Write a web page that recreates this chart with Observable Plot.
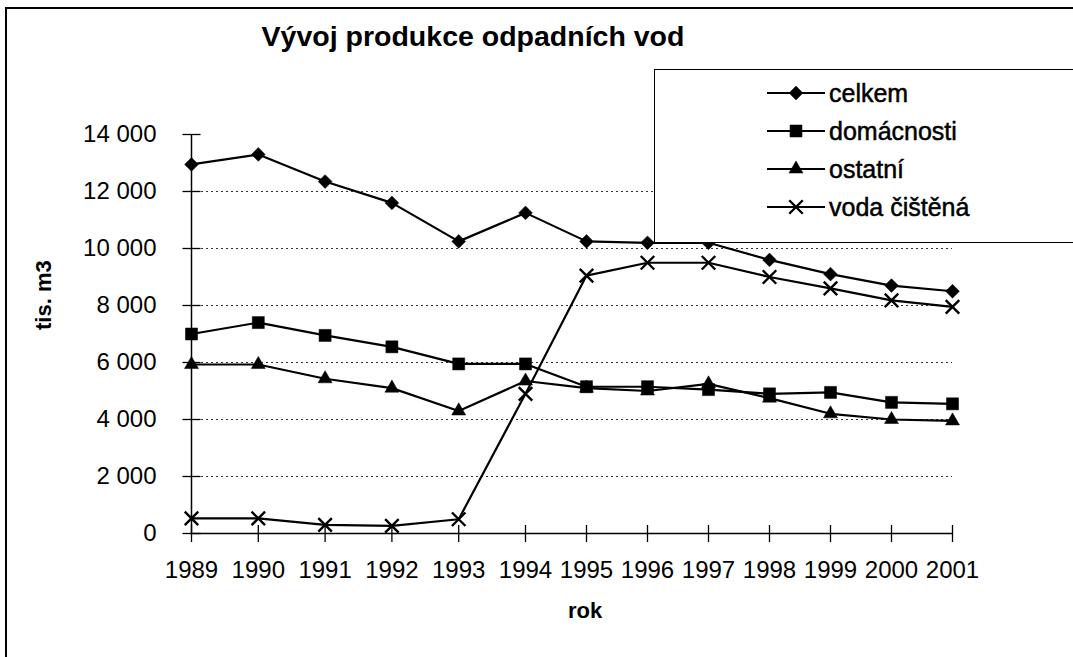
<!DOCTYPE html>
<html>
<head>
<meta charset="utf-8">
<script src="https://cdn.jsdelivr.net/npm/d3@7"></script>
<script src="https://cdn.jsdelivr.net/npm/@observablehq/plot@0.6"></script>
<style>
  html, body { margin: 0; padding: 0; background: #fff; }
  body { width: 1073px; height: 657px; overflow: hidden; font-family: "Liberation Sans", Arial, sans-serif; color: #000; }
  #wrap { position: relative; width: 1073px; height: 657px; }
  #frame { position: absolute; left: 5px; top: 7px; width: 1080px; height: 660px; border-left: 2px solid #000; border-top: 2px solid #000; box-sizing: border-box; pointer-events: none; }
  #title { height: 62px; box-sizing: border-box; padding-top: 21px; text-align: center; font-weight: bold; font-size: 28.5px; line-height: 30px; width: 946px; }
  #chart svg { display: block; }
  #legend { position: absolute; left: 654px; top: 69px; width: 440px; height: 174px; border: 1.5px solid #000; background: #fff; box-sizing: border-box; }
</style>
</head>
<body>
<div id="wrap">
  <div id="frame"></div>
  <div id="title">Vývoj produkce odpadních vod</div>
  <div id="chart"></div>
  <div id="legend"></div>
</div>
<script>
// ---- data ----
const years = [1989, 1990, 1991, 1992, 1993, 1994, 1995, 1996, 1997, 1998, 1999, 2000, 2001];
const celkem = [12950, 13300, 12350, 11600, 10250, 11250, 10250, 10200, 10200, 9600, 9100, 8700, 8500];
const domacnosti = [7000, 7400, 6950, 6550, 5950, 5950, 5150, 5150, 5050, 4900, 4950, 4600, 4550];
const ostatni = [5930, 5930, 5430, 5100, 4300, 5350, 5100, 5000, 5250, 4750, 4200, 4000, 3950];
const vodaCistena = [530, 530, 300, 270, 500, 4900, 9050, 9500, 9500, 9000, 8600, 8180, 7950];
const seriesNames = ["celkem", "domácnosti", "ostatní", "voda čištěná"];
const yTicks = [0, 2000, 4000, 6000, 8000, 10000, 12000, 14000];
const gridTicks = [2000, 4000, 6000, 8000, 10000, 12000];

const seriesValues = [celkem, domacnosti, ostatni, vodaCistena];
const symbols = ["diamond2", "square", "triangle", "times"];
const symbolR = [6.2, 6.8, 5.2, 6.2];
const d3Symbols = [d3.symbolDiamond2, d3.symbolSquare, d3.symbolTriangle, d3.symbolTimes];

const fmt = v => d3.format(",")(v).replace(/,/g, " ");

// crossing tick symbols for axes
const hTick = { draw(ctx) { ctx.moveTo(-9, 0); ctx.lineTo(9, 0); } };
const vTick = { draw(ctx) { ctx.moveTo(0, -8.5); ctx.lineTo(0, 8.5); } };

const seriesMarks = [];
seriesValues.forEach((vals, i) => {
  const rows = years.map((y, j) => ({ year: y, value: vals[j] }));
  seriesMarks.push(Plot.line(rows, { x: "year", y: "value", stroke: "#000", strokeWidth: 2.2 }));
  const filled = symbols[i] !== "times";
  seriesMarks.push(Plot.dot(rows, {
    x: "year", y: "value", symbol: symbols[i], r: symbolR[i],
    fill: filled ? "#000" : "none", stroke: "#000", strokeWidth: filled ? 0.5 : 2.4
  }));
});

const chart = Plot.plot({
  width: 1073,
  height: 595,
  marginLeft: 191,
  marginRight: 121,
  marginTop: 72,
  marginBottom: 124,
  style: { fontFamily: '"Liberation Sans", Arial, sans-serif', fontSize: "24px", color: "#000", background: "transparent", overflow: "visible" },
  x: { type: "linear", domain: [1989, 1994, 2001], range: [191, 525, 952] },
  y: { type: "linear", domain: [0, 14000] },
  marks: [
    Plot.ruleY(gridTicks, { stroke: "#333", strokeWidth: 1, strokeDasharray: "2 3" }),
    Plot.ruleX([years[0]], { y1: yTicks[0], y2: yTicks[yTicks.length - 1], stroke: "#000", strokeWidth: 1.5 }),
    Plot.ruleY([0], { stroke: "#000", strokeWidth: 1.5 }),
    Plot.dot(yTicks, { x: () => years[0], y: d => d, symbol: hTick, fill: "none", stroke: "#000", strokeWidth: 1.3 }),
    Plot.dot(years, { x: d => d, y: () => 0, symbol: vTick, fill: "none", stroke: "#000", strokeWidth: 1.3 }),
    Plot.axisY(yTicks, { tickSize: 0, tickPadding: 35, tickFormat: fmt, label: null, fontSize: 24, stroke: "#000", strokeWidth: 0.5 }),
    Plot.axisX(years, { tickSize: 0, tickPadding: 27, tickFormat: d => String(d), label: null, fontSize: 24, stroke: "#000", strokeWidth: 0.5 }),
    ...seriesMarks,
    Plot.text(["tis. m3"], { frameAnchor: "left", dx: -148, dy: -4, rotate: -90, fontWeight: "bold", fontSize: 22, text: d => d }),
    Plot.text(["rok"], { frameAnchor: "bottom", dx: 13, dy: 84, fontWeight: "bold", fontSize: 22, text: d => d })
  ]
});
document.getElementById("chart").appendChild(chart);

// ---- legend ----
const lg = d3.select("#legend").append("svg").attr("width", 440).attr("height", 172)
  .style("display", "block").style("font-family", '"Liberation Sans", Arial, sans-serif');
const rowY = [23, 61, 99, 137];
seriesNames.forEach((name, i) => {
  const g = lg.append("g").attr("transform", `translate(0,${rowY[i]})`);
  g.append("line").attr("x1", 112).attr("x2", 170).attr("y1", 0).attr("y2", 0).attr("stroke", "#000").attr("stroke-width", 2);
  const filled = symbols[i] !== "times";
  g.append("path").attr("transform", "translate(141,0)")
    .attr("d", d3.symbol().type(d3Symbols[i]).size(Math.PI * symbolR[i] * symbolR[i])())
    .attr("fill", filled ? "#000" : "none").attr("stroke", "#000").attr("stroke-width", filled ? 0.5 : 2.4);
  g.append("text").attr("x", 174).attr("y", 0).attr("dy", "0.36em").attr("font-size", 25)
    .attr("stroke", "#000").attr("stroke-width", 0.5).text(name);
});
</script>
</body>
</html>
